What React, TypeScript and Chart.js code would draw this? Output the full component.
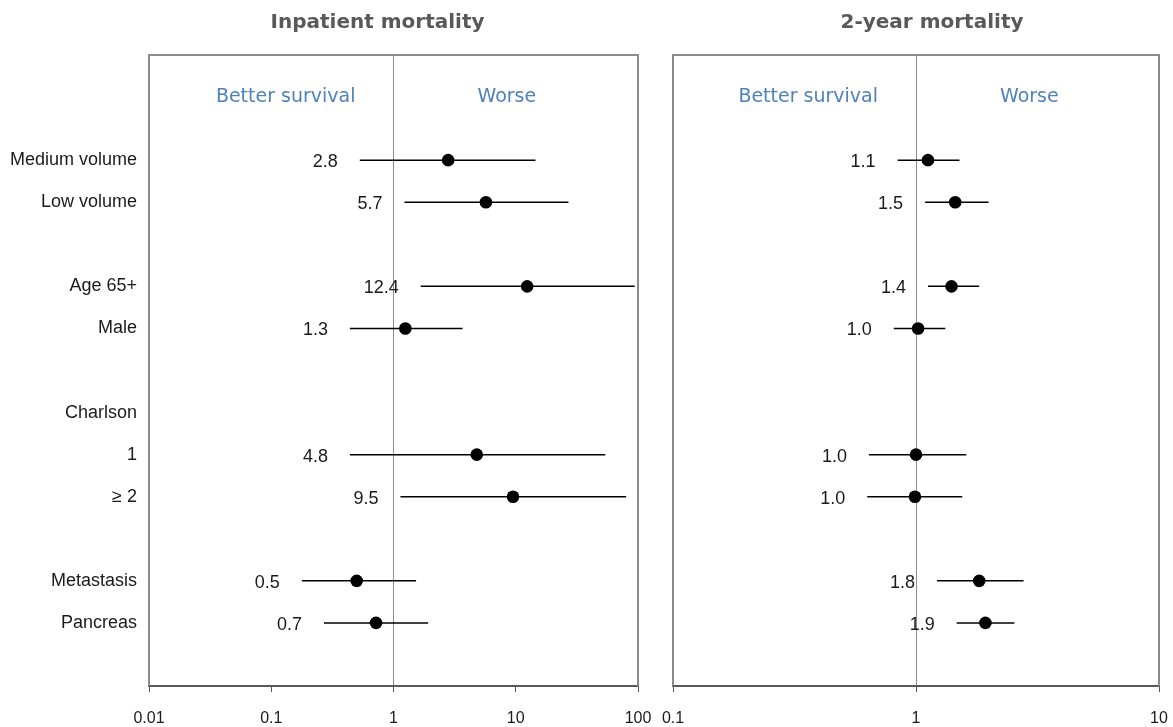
import React, { useEffect, useRef } from "react";
import { Chart, registerables } from "chart.js";
Chart.register(...registerables);

// ---- data ----
const rowLabels = ["", "", "Medium volume", "Low volume", "", "Age 65+", "Male", "", "Charlson", "1", "≥ 2", "", "Metastasis", "Pancreas", ""];
const factors = ["Medium volume", "Low volume", "Age 65+", "Male", "1", "≥ 2", "Metastasis", "Pancreas"];

const inpatientOR = [2.8, 5.7, 12.4, 1.25, 4.8, 9.5, 0.5, 0.72];
const inpatientLow = [0.53, 1.23, 1.67, 0.44, 0.44, 1.14, 0.178, 0.27];
const inpatientHigh = [14.5, 27, 94, 3.67, 54, 80, 1.53, 1.92];
const inpatientText = ["2.8", "5.7", "12.4", "1.3", "4.8", "9.5", "0.5", "0.7"];
const inpatientTicks = [0.01, 0.1, 1, 10, 100];

const twoYearOR = [1.12, 1.45, 1.4, 1.02, 1.0, 0.99, 1.82, 1.93];
const twoYearLow = [0.84, 1.09, 1.12, 0.81, 0.64, 0.63, 1.22, 1.47];
const twoYearHigh = [1.51, 1.99, 1.82, 1.32, 1.61, 1.55, 2.77, 2.54];
const twoYearText = ["1.1", "1.5", "1.4", "1.0", "1.0", "1.0", "1.8", "1.9"];
const twoYearTicks = [0.1, 1, 10];

const panelTitles = ["Inpatient mortality", "2-year mortality"];
const headerLeft = "Better survival";
const headerRight = "Worse";

const LABEL_FONT = "'Liberation Sans', Arial, sans-serif";
const TITLE_FONT = "'DejaVu Sans', sans-serif";

type Panel = {
  title: string;
  titleShift: number;
  or: number[];
  low: number[];
  high: number[];
  text: string[];
  ticks: number[];
  showY: boolean;
  padLeft: number;
  padRight: number;
};

function makeChart(canvas: HTMLCanvasElement, p: Panel) {
  const forestPlugin = {
    id: "forest",
    beforeDatasetsDraw(chart: any) {
      const { ctx, chartArea, scales } = chart;
      const xs = scales.x;
      const ys = scales.y;
      const meta = chart.getDatasetMeta(0);
      ctx.save();
      // frame (top, left, right)
      ctx.strokeStyle = "#8c8c8c";
      ctx.lineWidth = 2;
      ctx.beginPath();
      ctx.moveTo(chartArea.left, chartArea.bottom);
      ctx.lineTo(chartArea.left, chartArea.top);
      ctx.lineTo(chartArea.right, chartArea.top);
      ctx.lineTo(chartArea.right, chartArea.bottom);
      ctx.stroke();
      // CI lines and value labels
      ctx.strokeStyle = "#000";
      ctx.lineWidth = 1.5;
      ctx.font = `18px ${LABEL_FONT}`;
      ctx.fillStyle = "#1a1a1a";
      ctx.textAlign = "right";
      ctx.textBaseline = "middle";
      p.or.forEach((_, i) => {
        const y = meta.data[i].y;
        const x1 = xs.getPixelForValue(p.low[i]);
        const x2 = xs.getPixelForValue(p.high[i]);
        ctx.beginPath();
        ctx.moveTo(x1, y);
        ctx.lineTo(x2, y);
        ctx.stroke();
        ctx.fillText(p.text[i], x1 - 22, y + 2);
      });
      // header texts
      const hy = ys.getPixelForValue(0.5);
      const cx = xs.getPixelForValue(1);
      ctx.fillStyle = "#4f81bd";
      ctx.font = `19px ${TITLE_FONT}`;
      ctx.textAlign = "right";
      ctx.fillText(headerLeft, cx - 38, hy);
      ctx.textAlign = "left";
      ctx.fillText(headerRight, cx + 84, hy);
      // title
      ctx.fillStyle = "#595959";
      ctx.font = `bold 20px ${TITLE_FONT}`;
      ctx.textAlign = "center";
      ctx.fillText(p.title, cx + p.titleShift, 23);
      ctx.restore();
    },
  };

  return new Chart(canvas, {
    type: "scatter",
    data: {
      datasets: [
        {
          data: factors.map((f, i) => ({ x: p.or[i], y: f })),
          pointRadius: 6.3,
          pointBackgroundColor: "#000",
          pointBorderColor: "#000",
          pointBorderWidth: 0,
        },
      ],
    },
    options: {
      animation: false,
      responsive: false,
      maintainAspectRatio: false,
      layout: { padding: { top: 55, right: p.padRight, left: p.padLeft, bottom: 0 } },
      plugins: { legend: { display: false }, tooltip: { enabled: false }, title: { display: false } },
      scales: {
        x: {
          type: "logarithmic",
          min: p.ticks[0],
          max: p.ticks[p.ticks.length - 1],
          afterBuildTicks: (s: any) => {
            s.ticks = p.ticks.map((v) => ({ value: v }));
          },
          afterFit: (s: any) => {
            s.height = 41;
            s.paddingLeft = 0;
            s.paddingRight = 0;
          },
          ticks: {
            autoSkip: false,
            maxRotation: 0,
            padding: 17,
            color: "#1a1a1a",
            font: { family: LABEL_FONT, size: 16 },
            callback: (v: any) => String(v),
          },
          grid: {
            display: true,
            drawOnChartArea: true,
            color: (ctx: any) => (ctx.tick && ctx.tick.value === 1 ? "#8c8c8c" : "rgba(0,0,0,0)"),
            tickColor: "#555",
            tickLength: 6,
            lineWidth: 1,
          },
          border: { display: true, color: "#595959", width: 2 },
        },
        y: {
          type: "category",
          labels: rowLabels,
          offset: true,
          display: p.showY,
          afterFit: (s: any) => {
            if (p.showY) s.width = 149;
            s.paddingTop = 0;
            s.paddingBottom = 0;
          },
          grid: { display: false, drawTicks: false },
          border: { display: false },
          ticks: {
            autoSkip: false,
            padding: 12,
            color: "#1a1a1a",
            font: { family: LABEL_FONT, size: 18 },
          },
        },
      },
    } as any,
    plugins: [forestPlugin],
  });
}

export default function App() {
  const ref1 = useRef<HTMLCanvasElement>(null);
  const ref2 = useRef<HTMLCanvasElement>(null);

  useEffect(() => {
    const c1 = makeChart(ref1.current!, {
      title: panelTitles[0],
      titleShift: -16,
      or: inpatientOR,
      low: inpatientLow,
      high: inpatientHigh,
      text: inpatientText,
      ticks: inpatientTicks,
      showY: true,
      padLeft: 0,
      padRight: 22,
    });
    const c2 = makeChart(ref2.current!, {
      title: panelTitles[1],
      titleShift: 16,
      or: twoYearOR,
      low: twoYearLow,
      high: twoYearHigh,
      text: twoYearText,
      ticks: twoYearTicks,
      showY: false,
      padLeft: 13,
      padRight: 14,
    });
    return () => {
      c1.destroy();
      c2.destroy();
    };
  }, []);

  return (
    <div style={{ position: "absolute", left: 0, top: 0, width: 1173, height: 727, background: "#fff" }}>
      <canvas ref={ref1} width={660} height={727} style={{ position: "absolute", left: 0, top: 0, width: 660, height: 727 }} />
      <canvas ref={ref2} width={513} height={727} style={{ position: "absolute", left: 660, top: 0, width: 513, height: 727 }} />
    </div>
  );
}
